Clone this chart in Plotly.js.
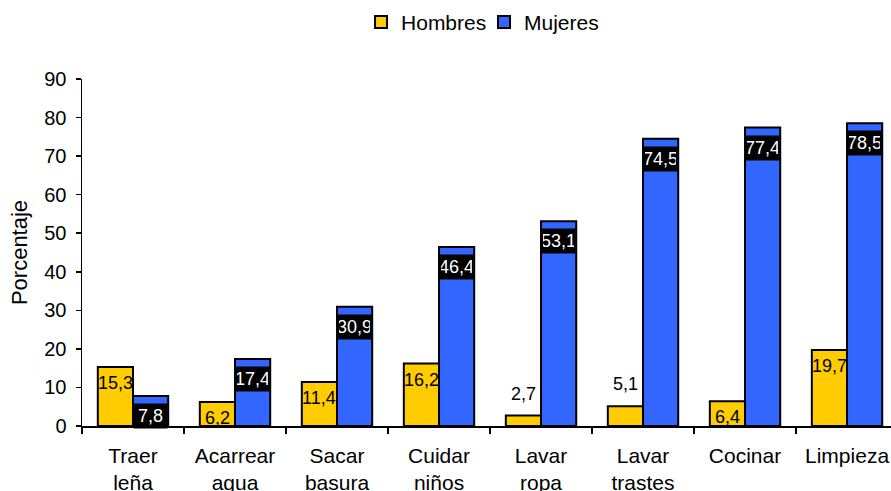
<!DOCTYPE html>
<html>
<head>
<meta charset="utf-8">
<script src="https://cdn.plot.ly/plotly-3.0.1.min.js"></script>
<style>html,body{margin:0;padding:0;overflow:hidden;background:#fff}#chart{width:891px;height:491px}</style>
</head>
<body>
<div id="chart"></div>
<script>
var categories = ["Traer<br>leña", "Acarrear<br>agua", "Sacar<br>basura", "Cuidar<br>niños", "Lavar<br>ropa", "Lavar<br>trastes", "Cocinar", "Limpieza"];
var hombres = [15.3, 6.2, 11.4, 16.2, 2.7, 5.1, 6.4, 19.7];
var mujeres = [7.8, 17.4, 30.9, 46.4, 53.1, 74.5, 77.4, 78.5];
var yTicks = [0, 10, 20, 30, 40, 50, 60, 70, 80, 90];

function fmt(v) { return v.toFixed(1).replace('.', ','); }

var font = "Arial, 'Liberation Sans', sans-serif";

var traces = [
  {type: 'bar', name: 'Hombres', x: categories, y: hombres, legend: 'legend',
   marker: {color: '#FFCC00', line: {color: '#000', width: 2}}, hoverinfo: 'skip'},
  {type: 'bar', name: 'Mujeres', x: categories, y: mujeres, legend: 'legend2',
   marker: {color: '#3366FF', line: {color: '#000', width: 2}}, hoverinfo: 'skip'}
];

var annotations = [];
hombres.forEach(function (v, i) {
  var small = v < 6;
  annotations.push({x: categories[i], y: v, xref: 'x', yref: 'y', text: fmt(v), showarrow: false,
    xshift: -17.6, yshift: small ? 22 : -16, yanchor: 'middle',
    font: {family: font, size: 18, color: '#000'}});
});
mujeres.forEach(function (v, i) {
  annotations.push({x: categories[i], y: v, xref: 'x', yref: 'y', text: fmt(v), showarrow: false,
    xshift: 17.6, yshift: -20, yanchor: 'middle', bgcolor: '#000', width: 31, height: 22, borderpad: 1,
    font: {family: font, size: 18, color: '#fff'}});
});

var legendBase = {orientation: 'h', xref: 'container', xanchor: 'left', yref: 'container', y: 0.996, yanchor: 'top',
                  bgcolor: 'rgba(0,0,0,0)', font: {family: font, size: 21, color: '#000'}, itemwidth: 30, tracegroupgap: 0};

var layout = {
  width: 891, height: 491,
  margin: {l: 82, r: 0, t: 79, b: 65},
  paper_bgcolor: '#fff', plot_bgcolor: '#fff',
  barmode: 'group', bargap: 0.31, bargroupgap: 0,
  font: {family: font, size: 20, color: '#000'},
  showlegend: true,
  legend: Object.assign({}, legendBase, {x: 0.4052}),
  legend2: Object.assign({}, legendBase, {x: 0.5432}),
  xaxis: {type: 'category', range: [-0.5, 7.431], showgrid: false, zeroline: false,
          showline: true, linecolor: '#000', linewidth: 1.5,
          ticks: 'outside', tickson: 'boundaries', ticklen: 6, tickcolor: '#000', tickwidth: 1.5,
          tickfont: {family: font, size: 21, color: '#000'}, ticklabelstandoff: 10, fixedrange: true},
  yaxis: {range: [0, 90], tickvals: yTicks, ticktext: yTicks.map(String), showgrid: false, zeroline: false,
          showline: true, linecolor: '#000', linewidth: 1.5,
          ticks: 'outside', ticklen: 5, tickcolor: '#000', tickwidth: 1.5,
          tickfont: {family: font, size: 20, color: '#000'}, ticklabelstandoff: 5,
          title: {text: 'Porcentaje', font: {family: font, size: 22, color: '#000'}, standoff: 10},
          automargin: false, fixedrange: true},
  annotations: annotations
};

Plotly.newPlot('chart', traces, layout, {displayModeBar: false, staticPlot: true});
</script>
</body>
</html>
